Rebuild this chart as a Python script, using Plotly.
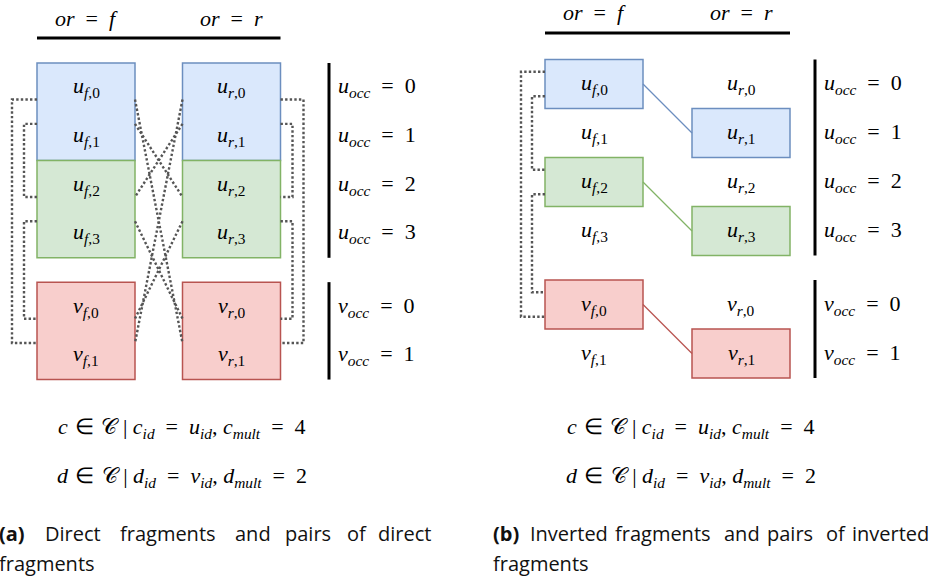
import plotly.graph_objects as go

W, H = 934, 583

# ---------------- data ----------------
row_letters = ["u", "u", "u", "u", "v", "v"]
row_index = ["0", "1", "2", "3", "0", "1"]
row_slots = [0, 1, 2, 3, 4.5, 5.5]
orientations = ["f", "r"]
occ_letters = ["u", "u", "u", "u", "v", "v"]
occ_values = ["0", "1", "2", "3", "0", "1"]
group_colors = {
    "blue": ("#dae8fc", "#6c8ebf"),
    "green": ("#d5e8d4", "#82b366"),
    "red": ("#f8cecc", "#b85450"),
}
# panel a: direct fragments (both orientations boxed, in pairs of rows)
a_groups = [("blue", 0, 1), ("green", 2, 3), ("red", 4, 5)]
# pairs of rows linked by dotted connectors: (row, -1 upper part / +1 lower part)
a_pairs = [((0, 1), (5, -1)), ((1, -1), (2, 1)), ((3, -1), (4, 1))]
# panel b: inverted fragments
b_left_boxes = [("blue", 0), ("green", 2), ("red", 4)]
b_right_boxes = [("blue", 1), ("green", 3), ("red", 5)]
b_pairs = [((0, -1), (4, 1)), ((0, 1), (2, -1)), ((2, 1), (4, -1))]
EQ = "\u2002=\u2002"
IN = "\u2004∈\u2004"
BAR = "\u2005|\u2005"
eq_lines = [
    f"<i>c</i>{IN}𝒞{BAR}<i>c</i><sub><i>id</i></sub>{EQ}<i>u</i><sub><i>id</i></sub>,\u2005<i>c</i><sub><i>mult</i></sub>{EQ}4",
    f"<i>d</i>{IN}𝒞{BAR}<i>d</i><sub><i>id</i></sub>{EQ}<i>v</i><sub><i>id</i></sub>,\u2005<i>d</i><sub><i>mult</i></sub>{EQ}2",
]
caption_a_words = ["<b>(a)</b>", "Direct", "fragments", "and", "pairs", "of", "direct"]
caption_a_word_x = [-3, 43, 118, 233, 283, 345, 433]
caption_a_line2 = "fragments"
caption_b_words = ["<b>(b)</b>", "Inverted", "fragments", "and", "pairs", "of", "inverted"]
caption_b_word_x = [491, 528, 613, 722, 765, 824, 931]
caption_b_line2 = "fragments"

MATH = "Liberation Serif"
SANS = "Open Sans"
FS = 22

shapes = []
annotations = []


def sym(letter, sub):
    return f"<i>{letter}</i><sub>{sub}</sub>"


def text(x, y, s, size=FS, family=MATH, xanchor="center", color="#000"):
    annotations.append(dict(x=x, y=y, xref="x", yref="y", text=s, showarrow=False,
                            xanchor=xanchor, yanchor="middle",
                            font=dict(family=family, size=size, color=color)))


def rect(x0, x1, y0, y1, color):
    fill, line = group_colors[color]
    shapes.append(dict(type="rect", xref="x", yref="y", x0=x0, x1=x1, y0=y0, y1=y1,
                       fillcolor=fill, line=dict(color=line, width=1.5), layer="below"))


def seg(pts, color="#555", width=2.4, dash="2.4px,2.2px"):
    path = "M " + " L ".join(f"{x},{y}" for x, y in pts)
    shapes.append(dict(type="path", xref="x", yref="y", path=path,
                       line=dict(color=color, width=width, dash=dash)))


def panel(top, h, colx, boxw, header_y, line_y, bar_x):
    def ry(i):
        return top + h * (row_slots[i] + 0.5)

    def rtop(i):
        return top + h * row_slots[i]

    for o, cx in zip(orientations, colx):
        text(cx, header_y, f"<i>or</i>{EQ}<i>{o}</i>")
    shapes.append(dict(type="line", xref="x", yref="y", x0=colx[0] - boxw / 2, x1=colx[1] + boxw / 2,
                       y0=line_y, y1=line_y, line=dict(color="#000", width=3)))
    shapes.append(dict(type="line", xref="x", yref="y", x0=bar_x, x1=bar_x, y0=rtop(0), y1=rtop(3) + h,
                       line=dict(color="#000", width=3)))
    shapes.append(dict(type="line", xref="x", yref="y", x0=bar_x, x1=bar_x, y0=rtop(4), y1=rtop(5) + h,
                       line=dict(color="#000", width=3)))
    for i in range(6):
        text(bar_x + 7, ry(i), f"<i>{occ_letters[i]}</i><sub><i>occ</i></sub>{EQ}{occ_values[i]}",
             xanchor="left")
    return ry, rtop


# ---------------- panel (a) ----------------
a_top, a_h = 63, 48.7
a_colx = [86, 231.5]
boxw = 98
ry, rtop = panel(a_top, a_h, a_colx, boxw, 18, 38, 329)
for color, r0, r1 in a_groups:
    for cx in a_colx:
        rect(cx - boxw / 2, cx + boxw / 2, rtop(r0), rtop(r1) + a_h, color)
for i in range(6):
    for o, cx in zip(orientations, a_colx):
        text(cx, ry(i), sym(row_letters[i], f"<i>{o}</i>,{row_index[i]}"))
q = a_h / 4
lx = a_colx[0] - boxw / 2
rx = a_colx[0] + boxw / 2
Lx = a_colx[1] - boxw / 2
Rx = a_colx[1] + boxw / 2
for k, ((r0, s0), (r1, s1)) in enumerate(a_pairs):
    y0 = ry(r0) + s0 * q
    y1 = ry(r1) + s1 * q
    off = 25 if k == 0 else 13
    roff = 23 if k == 0 else 12
    seg([(lx, y0), (lx - off, y0), (lx - off, y1), (lx, y1)])
    seg([(Rx, y0), (Rx + roff, y0), (Rx + roff, y1), (Rx, y1)])
    seg([(rx, y0), (Lx, y1)])
    seg([(Lx, y0), (rx, y1)])

# ---------------- panel (b) ----------------
b_top, b_h = 59.5, 49
b_colx = [594, 741]
ry, rtop = panel(b_top, b_h, b_colx, boxw, 12, 33, 815)
for (color, r), (color2, r2) in zip(b_left_boxes, b_right_boxes):
    rect(b_colx[0] - boxw / 2, b_colx[0] + boxw / 2, rtop(r), rtop(r) + b_h, color)
    rect(b_colx[1] - boxw / 2, b_colx[1] + boxw / 2, rtop(r2), rtop(r2) + b_h, color2)
    seg([(b_colx[0] + boxw / 2, ry(r)), (b_colx[1] - boxw / 2, ry(r2))],
        color=group_colors[color][1], width=1.2, dash="solid")
for i in range(6):
    for o, cx in zip(orientations, b_colx):
        text(cx, ry(i), sym(row_letters[i], f"<i>{o}</i>,{row_index[i]}"))
q = b_h / 4
lx = b_colx[0] - boxw / 2
for k, ((r0, s0), (r1, s1)) in enumerate(b_pairs):
    y0 = ry(r0) + s0 * q
    y1 = ry(r1) + s1 * q
    off = 24 if k == 0 else 13
    seg([(lx, y0), (lx - off, y0), (lx - off, y1), (lx, y1)])

# ---------------- equations and captions ----------------
for cx in [182, 691]:
    for j, eq in enumerate(eq_lines):
        text(cx, 428 + 49 * j, eq)


def caption(x, y, s, anchor="left"):
    # anchor inside the axis range, shift to the exact position
    annotations.append(dict(x=max(x, 0), y=y, xref="x", yref="y", text=s, showarrow=False,
                            xanchor=anchor, yanchor="middle", xshift=min(x, 0),
                            font=dict(family=SANS, size=20, color="#111")))


for k, (w, x) in enumerate(zip(caption_a_words, caption_a_word_x)):
    caption(x, 533, w, "right" if k == len(caption_a_words) - 1 else "left")
caption(-3, 563, caption_a_line2)
for k, (w, x) in enumerate(zip(caption_b_words, caption_b_word_x)):
    caption(x, 533, w, "right" if k == len(caption_b_words) - 1 else "left")
caption(491, 563, caption_b_line2)

fig = go.Figure()
fig.update_layout(
    width=W, height=H,
    margin=dict(l=0, r=0, t=0, b=0),
    paper_bgcolor="white", plot_bgcolor="white",
    xaxis=dict(range=[0, W], visible=False, fixedrange=True),
    yaxis=dict(range=[H, 0], visible=False, fixedrange=True),
    shapes=shapes, annotations=annotations, showlegend=False,
)
fig.write_html("out.html", config={"displayModeBar": False},
               post_script="document.body.style.margin='0';document.body.style.overflow='hidden';")
